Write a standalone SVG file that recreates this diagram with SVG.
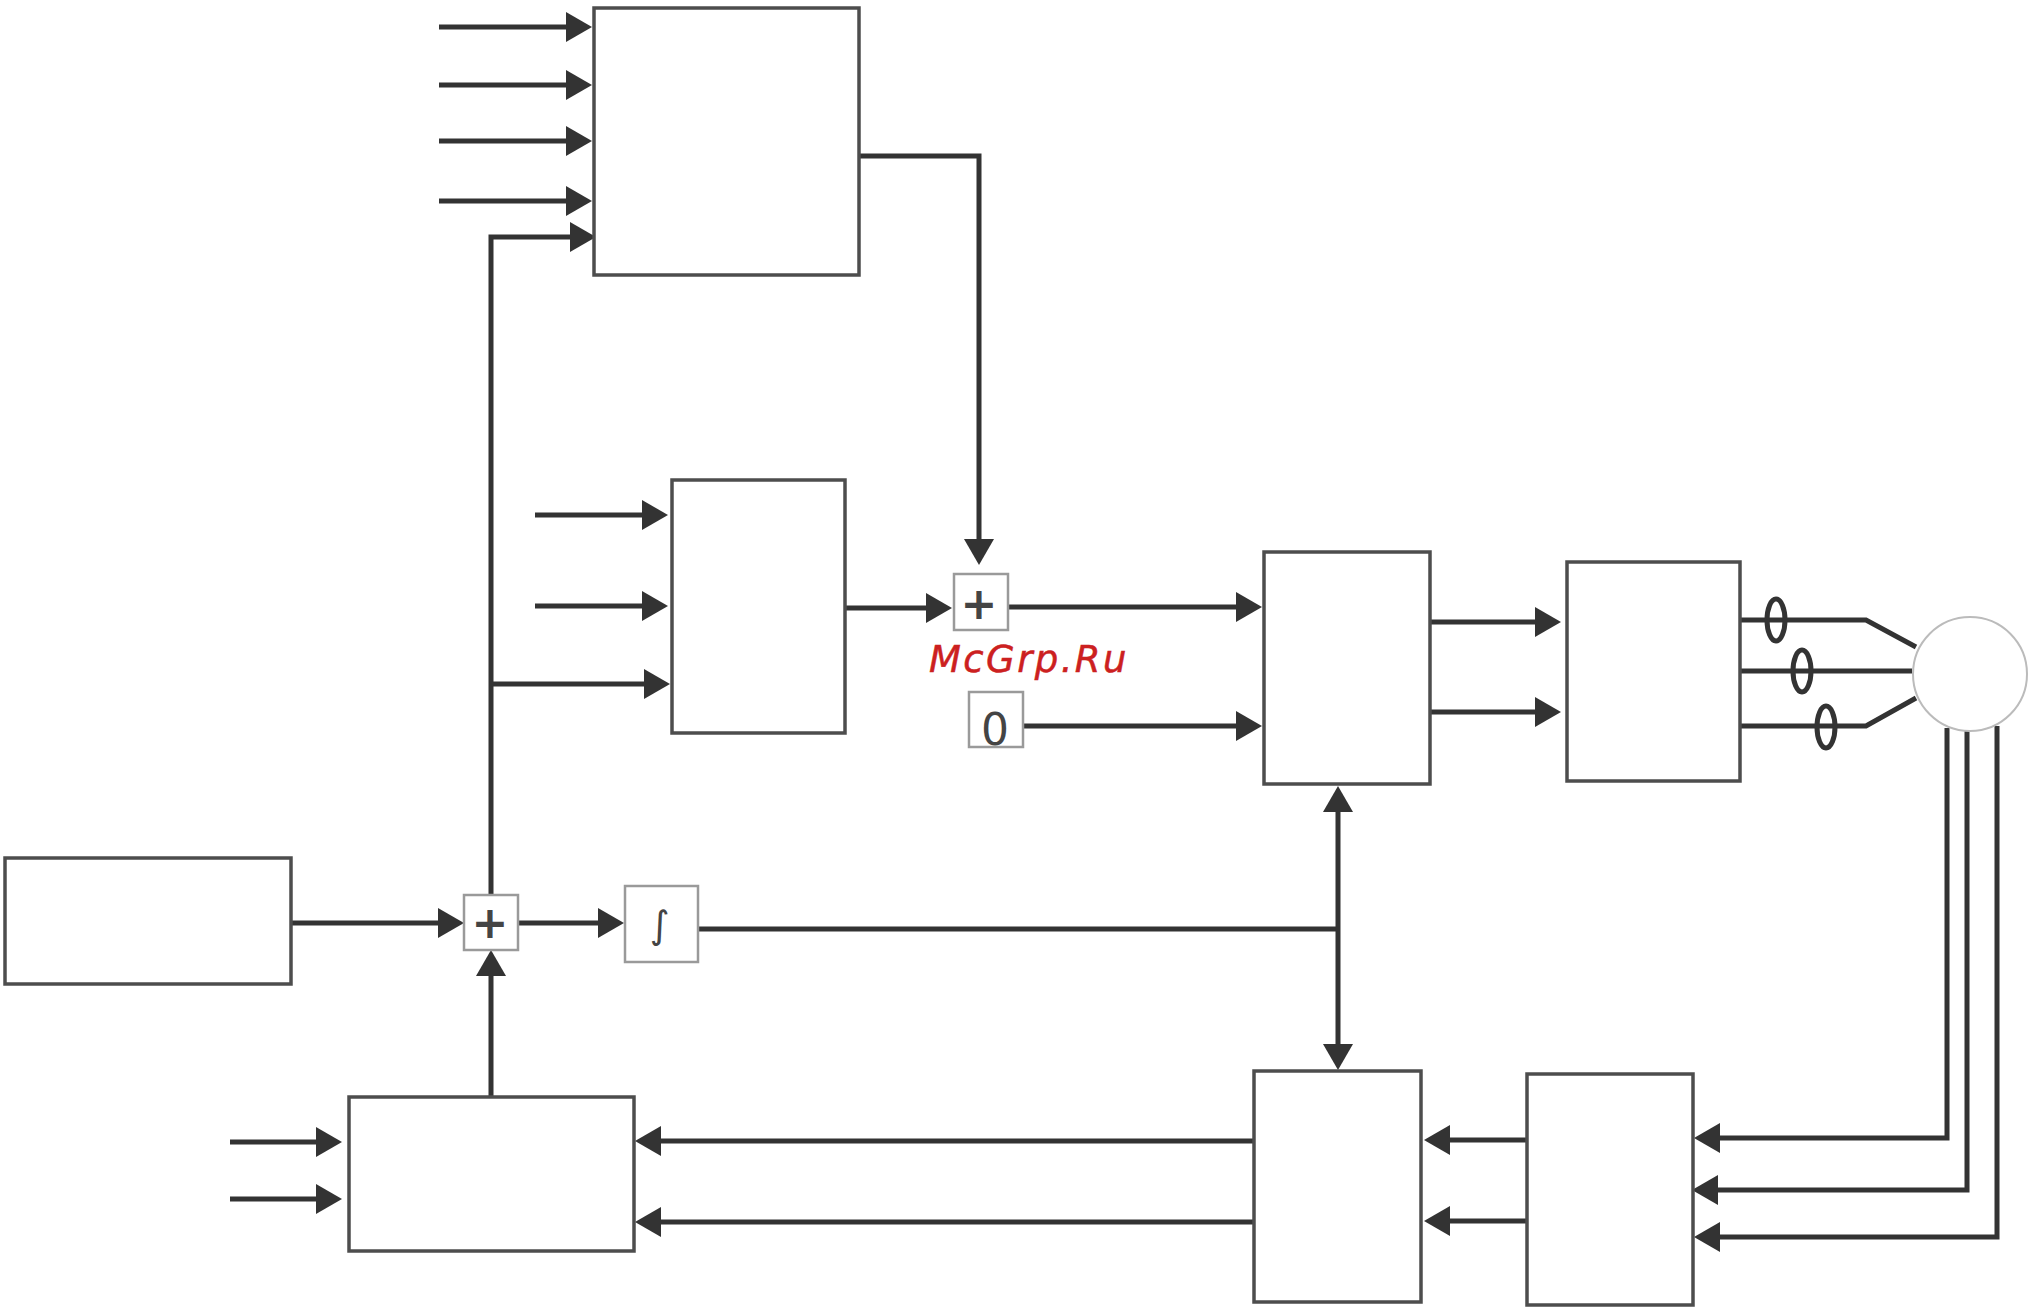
<svg xmlns="http://www.w3.org/2000/svg" width="2042" height="1314" viewBox="0 0 2042 1314">
<style>
.box{fill:#fff;stroke:#4d4d4d;stroke-width:3.5}
.small{fill:#fff;stroke:#9a9a9a;stroke-width:2.5}
.w{fill:none;stroke:#333;stroke-width:5}
.a{marker-end:url(#head)}
.t{font-family:"DejaVu Sans",sans-serif;fill:#444;text-anchor:middle}
.ring{fill:none;stroke:#333;stroke-width:5}
</style>
<defs>
<marker id="head" markerUnits="userSpaceOnUse" viewBox="0 0 26 30" markerWidth="26" markerHeight="30" refX="16" refY="15" orient="auto-start-reverse"><path d="M0 0L26 15L0 30Z" fill="#333"/></marker>
</defs>
<rect width="2042" height="1314" fill="#fff"/>
<g id="connectors">
<path class="w a" d="M439 27H582"/>
<path class="w a" d="M439 85H582"/>
<path class="w a" d="M439 141H582"/>
<path class="w a" d="M439 201H582"/>
<path class="w a" d="M491 894V237H586"/>
<path class="w a" d="M859 156H979V555"/>
<path class="w a" d="M535 515H658"/>
<path class="w a" d="M535 606H658"/>
<path class="w a" d="M491 684H660"/>
<path class="w a" d="M845 608H942"/>
<path class="w a" d="M1007 607H1252"/>
<path class="w a" d="M1022 726H1252"/>
<path class="w a" d="M1430 622H1551"/>
<path class="w a" d="M1430 712H1551"/>
<path class="w a" d="M291 923H454"/>
<path class="w a" d="M518 923H614"/>
<path class="w" d="M698 929H1338"/>
<path class="w a" d="M1338 929V796"/>
<path class="w a" d="M1338 929V1060"/>
<path class="w a" d="M491 1096V960"/>
<path class="w a" d="M230 1142H332"/>
<path class="w a" d="M230 1199H332"/>
<path class="w a" d="M1254 1141H645"/>
<path class="w a" d="M1254 1222H645"/>
<path class="w a" d="M1527 1140H1434"/>
<path class="w a" d="M1527 1221H1434"/>
<path class="w a" d="M1947 728V1138H1704"/>
<path class="w a" d="M1967 730V1190H1702"/>
<path class="w a" d="M1997 726V1237H1704"/>
<path class="w" d="M1739 620H1866L1916 647"/>
<path class="w" d="M1739 671H1912"/>
<path class="w" d="M1739 726H1866L1916 698"/>
</g>
<g id="current-rings">
<ellipse class="ring" cx="1776" cy="620" rx="9" ry="21"/>
<ellipse class="ring" cx="1802" cy="671" rx="9" ry="21"/>
<ellipse class="ring" cx="1826" cy="727" rx="9" ry="21"/>
</g>
<g id="node-torque-control"><rect class="box" x="594" y="8" width="265" height="267"/></g>
<g id="node-flux-control"><rect class="box" x="672" y="480" width="173" height="253"/></g>
<g id="node-park-inverse"><rect class="box" x="1264" y="552" width="166" height="232"/></g>
<g id="node-pwm"><rect class="box" x="1567" y="562" width="173" height="219"/></g>
<g id="node-motor"><circle cx="1970" cy="674" r="57" fill="#fff" stroke="#bbb" stroke-width="2"/></g>
<g id="node-clarke"><rect class="box" x="1527" y="1074" width="166" height="231"/></g>
<g id="node-park"><rect class="box" x="1254" y="1071" width="167" height="231"/></g>
<g id="node-observer"><rect class="box" x="349" y="1097" width="285" height="154"/></g>
<g id="node-speed-reference"><rect class="box" x="5" y="858" width="286" height="126"/></g>
<g id="node-sum-speed"><rect class="small" x="464" y="895" width="54" height="55"/><text class="t" x="490" y="938" font-size="44" font-weight="bold">+</text></g>
<g id="node-integrator"><rect class="small" x="625" y="886" width="73" height="76"/><text class="t" x="660" y="938" font-size="38" fill="#555">∫</text></g>
<g id="node-sum-current"><rect class="small" x="954" y="574" width="54" height="56"/><text class="t" x="979" y="619" font-size="44" font-weight="bold">+</text></g>
<g id="node-zero"><rect class="small" x="969" y="692" width="54" height="55"/><text class="t" x="995" y="745" font-size="44">0</text></g>
<text x="929" y="672" font-family="DejaVu Sans,sans-serif" font-style="italic" font-size="37" letter-spacing="2.4" fill="#cc2020" stroke="#cc2020" stroke-width="0.5">McGrp.Ru</text>
</svg>
